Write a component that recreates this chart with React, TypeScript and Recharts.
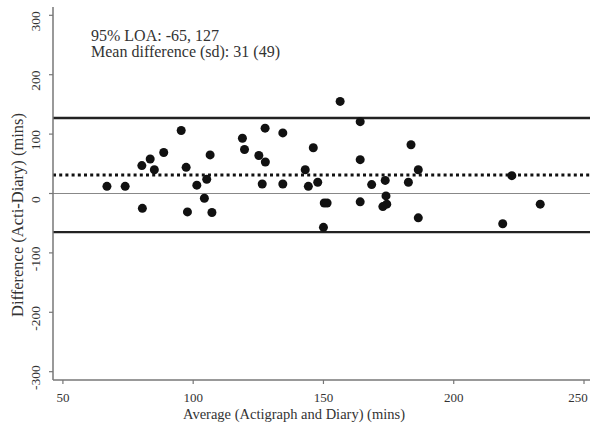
import {
    ScatterChart, Scatter, XAxis, YAxis, ReferenceLine
} from "recharts"

// Bland-Altman: actigraph vs sleep diary
const avgMins = [
    95.4, 88.7, 83.5, 80.3, 85.1, 106.5, 97.3, 66.9, 73.9, 101.4, 105.2, 104.3,
    80.5, 97.8, 107.2, 156.4, 164.1, 127.6, 134.4, 118.9, 119.7, 125.2, 127.7,
    146.1, 164.1, 143.0, 183.6, 126.5, 134.4, 144.2, 147.8, 168.5, 173.7, 182.6,
    186.4, 150.3, 151.4, 164.1, 174.0, 174.3, 172.8, 150.0, 222.3, 186.4, 218.8, 233.2,
]
const diffMins = [
    106, 69, 58, 47, 40, 65, 44, 12, 12, 14, 24, -8,
    -25, -31, -32, 155, 121, 110, 102, 93, 74, 64, 53,
    77, 57, 40, 82, 16, 16, 12, 19, 15, 22, 19,
    40, -16, -16, -14, -4, -18, -22, -57, 30, -41, -51, -18,
]
const xTicks = [50, 100, 150, 200, 250]
const yTicks = [-300, -200, -100, 0, 100, 200, 300]
const meanDiff = 31
const loa = [-65, 127]
const notes = ["95% LOA: -65, 127", "Mean difference (sd): 31 (49)"]

const points = avgMins.map((x, i) => ({ x, y: diffMins[i] }))

const FONT = '"Liberation Serif", "Times New Roman", serif'
const TXT = "#333"
const AXIS = "#777"

const XTick = (props: any) => (
    <text x={props.x} y={402} textAnchor="middle" fontSize={13} fill={TXT}>
        {props.payload.value}
    </text>
)

const YTick = (props: any) => (
    <text x={40} y={props.y + 6} textAnchor="middle" fontSize={13.5} fill={TXT}
        transform={`rotate(-90, 40, ${props.y + 6})`}>
        {props.payload.value}
    </text>
)

const Dot = (p: any) => <circle cx={p.cx} cy={p.cy} r={4.5} fill="#111" />

export default function App() {
    return (
        <div style={{ position: "absolute", left: 0, top: 0, width: 590, height: 426, background: "#fff", fontFamily: FONT }}>
            <ScatterChart width={590} height={426}
                margin={{ top: 7, right: 0, bottom: 0, left: 0 }}
                style={{ fontFamily: FONT }}>
                <XAxis type="number" dataKey="x" domain={[46.2, 252.3]} allowDataOverflow
                    ticks={xTicks} height={46} tickSize={4}
                    axisLine={{ stroke: AXIS, strokeWidth: 1.5 }}
                    tickLine={{ stroke: AXIS, strokeWidth: 1.2 }}
                    tick={<XTick />}
                    label={{
                        content: () => (
                            <text x={294} y={419} textAnchor="middle" fontSize={14.5} fill={TXT}>
                                Average (Actigraph and Diary) (mins)
                            </text>
                        )
                    }} />
                <YAxis type="number" dataKey="y" domain={[-314, 314]} allowDataOverflow
                    ticks={yTicks} width={53} tickSize={4}
                    axisLine={{ stroke: AXIS, strokeWidth: 1.5 }}
                    tickLine={{ stroke: AXIS, strokeWidth: 1.2 }}
                    tick={<YTick />}
                    label={{
                        content: () => (
                            <g>
                                <text x={23} y={215} textAnchor="middle" fontSize={16.5} fill={TXT}
                                    transform="rotate(-90, 23, 215)">
                                    Difference (Acti-Diary) (mins)
                                </text>
                                {notes.map((t, i) => (
                                    <text key={i} x={91} y={40.7 + i * 16.7} fontSize={16} fill={TXT}>
                                        {t}
                                    </text>
                                ))}
                            </g>
                        )
                    }} />
                <ReferenceLine y={0} stroke="#888" strokeWidth={1.2} />
                {loa.map(v => (
                    <ReferenceLine key={v} y={v} stroke="#222" strokeWidth={2.4} />
                ))}
                <ReferenceLine y={meanDiff} stroke="#111" strokeWidth={3} strokeDasharray="3 3.2" />
                <Scatter data={points} shape={<Dot />} isAnimationActive={false} />
            </ScatterChart>
        </div>
    )
}
